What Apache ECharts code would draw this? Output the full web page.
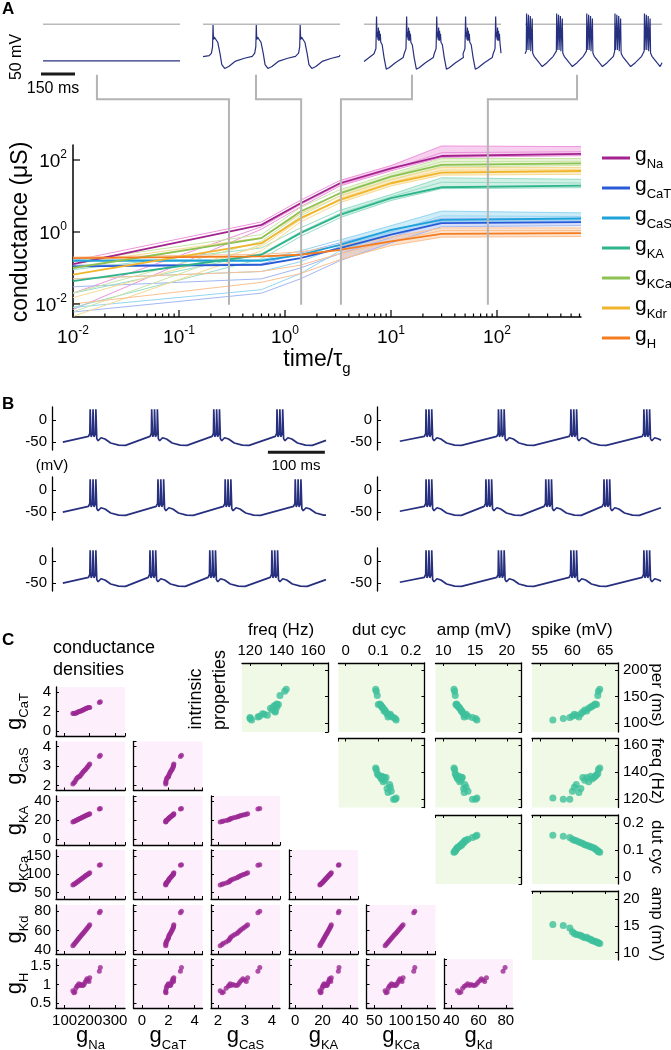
<!DOCTYPE html>
<html>
<head>
<meta charset="utf-8">
<script src="https://cdn.jsdelivr.net/npm/echarts@6.0.0/dist/echarts.min.js"></script>
<style>html,body{margin:0;padding:0;background:#fff;}#chart{width:671px;height:1050px;}</style>
</head>
<body>
<div id="chart"></div>
<script>
const FONT = "'Liberation Sans', Arial, sans-serif";
const NAVY = '#27307f';

// ================= PANEL A : top voltage traces (ms, mV) =================
const traceA1 = [[0, -57], [437, -57]];
const spikeTimesA2 = [32, 170, 310];
const waveA2 = [[-12,-49],[-5,-45],[-1.5,-35],[0,-1],[1.5,-24],[4,-20],[9,-22],[15,-28],[22,-45],[28,-63],[37,-69],[50,-66],[70,-58],[100,-53],[125,-50]];
const startEndA2 = [[0,-50.5],[437,-48]];
const burstTimesA3 = [40, 136, 232, 324, 420];
const waveA3 = [[-8,-46],[-2,-38],[0,12],[1.5,-20],[3,-12],[4.5,-24],[6,-5],[7.5,-26],[9,-10],[10.5,-25],[12,-15],[13.5,-28],[18,-32],[24,-52],[31,-70],[40,-68],[60,-60],[85,-52]];
const startEndA3 = [[0,-58],[437,-45]];
const burstTimesA4 = [5, 101, 197, 287, 381];
const waveA4 = [[-5,-48],[-1,-42],[0,17],[1.5,-40],[6,15],[7.5,-40],[12,13],[13.5,-42],[18,9],[19.5,-45],[24,-50],[30,-47],[40,-60],[50,-66],[65,-60],[85,-50]];
const startEndA4 = [[0,-46],[437,-60]];

// ================= PANEL A : conductance trajectories =================
const timePoints = [0.01, 0.6, 1.4, 3.3, 10, 30, 620];
const channelNames = ['Na','CaT','CaS','KA','KCa','Kdr','H'];
const gNaMean  = [0.129, 1.58, 6.3, 22.6, 58.8, 129, 147];
const gNaLow   = [0.007, 1.2, 5.0, 19, 50, 118, 132];
const gNaMid   = [0.02, 1.4, 5.8, 21, 55, 160, 170];
const gNaHigh  = [0.16, 1.9, 7.6, 27, 70, 245, 235];
const gCaTMean = [0.111, 0.123, 0.189, 0.357, 0.84, 1.76, 1.88];
const gCaTLow  = [0.006, 0.02, 0.05, 0.16, 0.5, 1.4, 1.5];
const gCaTMid  = [0.03, 0.05, 0.1, 0.25, 0.7, 2.0, 2.0];
const gCaTHigh = [0.12, 0.13, 0.26, 0.5, 1.1, 2.4, 2.4];
const gCaSMean = [0.159, 0.159, 0.233, 0.44, 1.15, 2.18, 2.37];
const gCaSLow  = [0.008, 0.025, 0.07, 0.3, 0.85, 1.9, 2.0];
const gCaSMid  = [0.05, 0.08, 0.15, 0.4, 1.0, 2.8, 2.7];
const gCaSHigh = [0.17, 0.17, 0.3, 0.6, 1.5, 3.8, 3.4];
const gKAMean  = [0.043, 0.233, 0.93, 2.99, 8.7, 17.5, 19.5];
const gKALow   = [0.008, 0.18, 0.75, 2.5, 7.5, 16, 17];
const gKAMid   = [0.02, 0.25, 1.0, 3.3, 9.5, 24, 23];
const gKAHigh  = [0.09, 0.36, 1.3, 4.0, 11, 32, 29];
const gKCaMean = [0.1, 0.676, 3.7, 11.9, 34.5, 73, 81];
const gKCaLow  = [0.006, 0.45, 2.8, 10, 28, 64, 70];
const gKCaMid  = [0.02, 0.55, 3.2, 12.5, 36, 90, 92];
const gKCaHigh = [0.15, 0.85, 4.8, 15, 42, 110, 110];
const gKdrMean = [0.065, 0.49, 2.42, 7.8, 22.6, 44.6, 49.5];
const gKdrLow  = [0.0045, 0.3, 1.9, 6.5, 19, 38, 40];
const gKdrMid  = [0.015, 0.4, 2.2, 8.5, 24, 52, 54];
const gKdrHigh = [0.13, 0.7, 3.2, 10, 29, 62, 62];
const gHMean   = [0.189, 0.21, 0.233, 0.32, 0.55, 0.89, 0.93];
const gHLow    = [0.01, 0.04, 0.07, 0.17, 0.42, 0.72, 0.75];
const gHMid    = [0.05, 0.08, 0.12, 0.25, 0.55, 1.1, 1.1];
const gHHigh   = [0.2, 0.24, 0.28, 0.42, 0.72, 1.3, 1.3];
const markerTimes = [0.296, 1.42, 3.37, 82];      // time/tau_g of the four example traces
const markerTraceTimes = [172, 169, 153, 166];    // ms, where the brackets meet the traces

// ================= PANEL B : six bursting traces =================
const waveB = [[-3,-37],[-0.6,-30],[0,25],[1.6,-38],[4.4,-30],[5,25],[6.6,-38],[9.4,-30],[10,25],[11.6,-42],[14,-47],[19,-40],[26,-43],[36,-52],[50,-57],[62,-57.5]];
const burstsB1L = [67, 175, 284, 395], startEndB1L = [[19,-50],[481,-46]];
const burstsB2L = [67, 186, 304, 427], startEndB2L = [[19,-50],[481,-57]];
const burstsB3L = [67, 172, 277, 386], startEndB3L = [[19,-50],[481,-42]];
const burstsB1R = [86, 213, 340, 468], startEndB1R = [[40,-48],[498,-46]];
const burstsB2R = [86, 191, 296, 398], startEndB2R = [[40,-48],[498,-40]];
const burstsB3R = [86, 213, 340, 468], startEndB3R = [[40,-48],[498,-46]];

// ================= PANEL C : 20 model neurons =================
const gNaC  = [133,137,141,145,149,153,157,161,165,169,173,177,181,185,189,193,197,200,238,242];
const gCaTC = [1.80,1.82,1.80,1.85,1.88,1.95,2.00,2.02,2.05,2.10,2.15,2.20,2.25,2.30,2.35,2.38,2.40,2.42,2.92,3.00];
const gCaSC = [2.08,2.15,2.20,2.30,2.38,2.42,2.45,2.48,2.55,2.62,2.70,2.75,2.80,2.85,2.92,2.98,3.05,3.10,3.48,3.55];
const gKAC  = [18.0,18.5,19.0,19.6,20.1,20.6,21.1,21.6,22.1,22.6,23.1,23.6,24.1,24.6,25.1,25.6,26.0,26.4,31.5,32.0];
const gKCaC = [70,72,74,76,78,80,82,84,86,88,90,92,94,96,98,100,102,104,124,126];
const gKdC  = [44.5,45.8,47.0,48.3,49.6,50.8,52.0,53.3,54.5,55.8,57.0,58.3,59.5,60.8,62.0,63.3,64.5,65.8,78.0,79.5];
const gHC   = [0.83,0.78,0.80,0.90,0.95,0.98,1.02,0.97,1.00,0.98,0.97,1.00,1.05,1.10,1.15,1.12,1.08,1.18,1.35,1.45];
const spikeC = [57.0,58.6,59.6,60.0,60.3,60.6,61.0,61.3,61.6,61.9,62.2,62.5,62.8,63.0,63.3,63.5,63.7,63.9,64.0,64.2];
const perC   = [106,109,111,113,117,115,112,118,121,125,123,128,130,132,134,136,135,152,160,164];
const freqC  = [121,120,120,126,129,131,125,128,136,134,136,133,137,135,136,137,138,139,142,143];
const dutC   = [0.155,0.152,0.147,0.140,0.137,0.135,0.130,0.127,0.124,0.120,0.118,0.115,0.112,0.110,0.108,0.105,0.100,0.097,0.094,0.092];
const ampC   = [15.3,15.1,14.6,13.9,13.6,13.4,13.3,13.2,13.0,12.8,12.9,12.6,12.5,12.3,12.2,12.1,12.0,11.9,11.8,11.7];

// ================= building =================
const chart = echarts.init(document.getElementById('chart'));
const grids = [], xAxes = [], yAxes = [], series = [], graphics = [];
const CCW = Math.PI / 2, CW = -Math.PI / 2;

function addGrid(box, xa, ya) {
  grids.push(Object.assign({show: false, containLabel: false}, box));
  const gi = grids.length - 1;
  xa.gridIndex = gi; ya.gridIndex = gi;
  xAxes.push(xa); yAxes.push(ya);
  return gi;
}
function addLine(idx, data, color, width, extra) {
  series.push(Object.assign({type: 'line', xAxisIndex: idx, yAxisIndex: idx, data: data, symbol: 'none',
    showSymbol: false, silent: true, animation: false, color: color,
    lineStyle: {color: color, width: width}}, extra || {}));
}
function buildTrace(startEnd, onsets, wave) {
  const start = startEnd[0], end = startEnd[1];
  const pts = [start];
  onsets.forEach(function (t0) {
    wave.forEach(function (p) { const t = t0 + p[0]; if (t > start[0] && t < end[0]) pts.push([t, p[1]]); });
  });
  pts.push(end);
  return pts;
}
function txt(x, y, text, o) {
  o = o || {};
  graphics.push({type: 'text', x: x, y: y, rotation: o.rot || 0, z: 100, silent: true,
    style: {text: text, fontSize: o.size || 16, fontFamily: FONT, fontWeight: o.bold ? 'bold' : 'normal',
      fill: '#000', align: o.align || 'center', verticalAlign: o.valign || 'middle', rich: o.rich}});
}
function subRich(gs, ss, pad) {
  return {
    g: {fontSize: gs, fontFamily: FONT, fill: '#000', color: '#000', verticalAlign: 'bottom', padding: [0, 0, pad, 0]},
    s: {fontSize: ss, fontFamily: FONT, fill: '#000', color: '#000', verticalAlign: 'bottom'}
  };
}

// ---- Panel A top traces ----
const topLeft = [43, 203, 364, 525];
const topIdx = [];
const topTraces = [traceA1, buildTrace(startEndA2, spikeTimesA2, waveA2),
  buildTrace(startEndA3, burstTimesA3, waveA3), buildTrace(startEndA4, burstTimesA4, waveA4)];
topTraces.forEach(function (tr, k) {
  const gi = addGrid({left: topLeft[k], top: 10.2, width: 137, height: 62.1},
    {type: 'value', min: 0, max: 437, show: false},
    {type: 'value', min: -75, max: 22, show: false});
  topIdx.push(gi);
  addLine(gi, [[0, 0], [437, 0]], '#b9b9b9', 1.4);
  addLine(gi, tr, NAVY, 1.2, {clip: false});
});
// scale bar 150 ms / 50 mV
const sbA = {t: -48, v: -77.7};
addLine(topIdx[0], [[sbA.t, sbA.v + 50], [sbA.t, sbA.v], [sbA.t + 150, sbA.v]], '#1a1a1a', 3, {clip: false});

// ---- Panel A main plot ----
const Y_MIN = 0.00435, Y_MAX = 261, X_MIN = 0.01, X_MAX = 620;
function supFmt(v, evenOnly) {
  const e = Math.log10(v), r = Math.round(e);
  if (Math.abs(e - r) > 1e-6) return '';
  if (evenOnly && r % 2 !== 0) return '';
  return '{b|10}{s|' + r + '}';
}
const supRich = {
  b: {fontSize: 19, fontFamily: FONT, color: '#000', verticalAlign: 'bottom'},
  s: {fontSize: 12, fontFamily: FONT, color: '#000', verticalAlign: 'bottom', padding: [0, 0, 10, 0]}
};
const mi = addGrid({left: 73, top: 145, width: 508, height: 172},
  {type: 'log', logBase: 10, min: X_MIN, max: X_MAX,
    axisLine: {show: true, onZero: false, lineStyle: {color: '#000', width: 1.5}},
    axisTick: {show: false}, splitLine: {show: false}, minorTick: {show: false},
    axisLabel: {margin: 8, formatter: function (v) { return supFmt(v, false); }, rich: supRich}},
  {type: 'log', logBase: 10, min: Y_MIN, max: Y_MAX,
    axisLine: {show: true, onZero: false, lineStyle: {color: '#000', width: 1.5}},
    axisTick: {show: false}, splitLine: {show: false}, minorTick: {show: false},
    axisLabel: {margin: 6, formatter: function (v) { return supFmt(v, true); }, rich: supRich}});

const meanSets = [gNaMean, gCaTMean, gCaSMean, gKAMean, gKCaMean, gKdrMean, gHMean];
const lowSets  = [gNaLow, gCaTLow, gCaSLow, gKALow, gKCaLow, gKdrLow, gHLow];
const midSets  = [gNaMid, gCaTMid, gCaSMid, gKAMid, gKCaMid, gKdrMid, gHMid];
const highSets = [gNaHigh, gCaTHigh, gCaSHigh, gKAHigh, gKCaHigh, gKdrHigh, gHHigh];
const chColors = ['#a2238e', '#2a5bd6', '#1ea2d9', '#2eb48b', '#8dc152', '#f1b52c', '#f47c20'];
const chLight  = ['#ee94db', '#a3b7f3', '#93d6f1', '#98ddc7', '#cbe5a8', '#f9da90', '#fac192'];
const BAND_FROM = 3; // shade the spread from t = 3.3 onward, where the runs bunch together

channelNames.forEach(function (n, c) {
  const lo = lowSets[c], hi = highSets[c], col = chLight[c];
  series.push({type: 'custom', xAxisIndex: mi, yAxisIndex: mi, silent: true, animation: false, z: 1,
    data: [[1, 1]],
    renderItem: function (params, api) {
      const idx = timePoints.map(function (t, i) { return i; }).filter(function (i) { return i >= BAND_FROM; });
      const up = idx.map(function (i) { return api.coord([timePoints[i], hi[i]]); });
      const dn = idx.map(function (i) { return api.coord([timePoints[i], lo[i]]); }).reverse();
      return {type: 'polygon', shape: {points: up.concat(dn)}, style: {fill: col, opacity: 0.45}};
    }});
  [lo, midSets[c], hi].forEach(function (arr) {
    addLine(mi, timePoints.map(function (t, i) { return [t, arr[i]]; }), col, 1, {z: 2});
  });
});
channelNames.forEach(function (n, c) {
  addLine(mi, timePoints.map(function (t, i) { return [t, meanSets[c][i]]; }), chColors[c], 1.8, {name: n, z: 3});
});
// log-axis tick marks (major at decades, minor at 2..9)
const xTickVals = [];
for (let d = -2; d <= 2; d++) for (let m = 1; m <= 9; m++) { const v = m * Math.pow(10, d); if (v <= X_MAX) xTickVals.push(v); }
series.push({type: 'custom', xAxisIndex: mi, yAxisIndex: mi, silent: true, animation: false, clip: false, z: 5,
  data: xTickVals.map(function (v) { return [v, Y_MIN]; }),
  renderItem: function (p, api) {
    const v = api.value(0), pt = api.coord([v, Y_MIN]);
    const e = Math.log10(v), major = Math.abs(e - Math.round(e)) < 1e-9;
    const L = major ? 7 : 3.5;
    return {type: 'line', shape: {x1: pt[0], y1: pt[1], x2: pt[0], y2: pt[1] - L}, style: {stroke: '#000', lineWidth: 1.2}};
  }});
series.push({type: 'custom', xAxisIndex: mi, yAxisIndex: mi, silent: true, animation: false, clip: false, z: 5,
  data: [[X_MIN, 0.01], [X_MIN, 1], [X_MIN, 100]],
  renderItem: function (p, api) {
    const pt = api.coord([X_MIN, api.value(1)]);
    return {type: 'line', shape: {x1: pt[0], y1: pt[1], x2: pt[0] + 7, y2: pt[1]}, style: {stroke: '#000', lineWidth: 1.2}};
  }});

// ---- Panel B ----
const bLeft = [52, 377], bWidth = [274, 284], bMax = [481, 498], bTop = [407, 477, 548];
const bTraces = [
  [buildTrace(startEndB1L, burstsB1L, waveB), buildTrace(startEndB1R, burstsB1R, waveB)],
  [buildTrace(startEndB2L, burstsB2L, waveB), buildTrace(startEndB2R, burstsB2R, waveB)],
  [buildTrace(startEndB3L, burstsB3L, waveB), buildTrace(startEndB3R, burstsB3R, waveB)]];
const bIdx = [];
bTraces.forEach(function (row, r) {
  row.forEach(function (tr, c) {
    const gi = addGrid({left: bLeft[c], top: bTop[r], width: bWidth[c], height: 43},
      {type: 'value', min: 0, max: bMax[c], show: false},
      {type: 'value', min: -68, max: 30, splitNumber: 2,
        axisLine: {show: true, onZero: false, lineStyle: {color: '#000', width: 1.3}},
        axisTick: {show: true, inside: true, length: 4, lineStyle: {color: '#000'}},
        splitLine: {show: false},
        axisLabel: {fontSize: 15, fontFamily: FONT, color: '#000', margin: 5, showMinLabel: false, showMaxLabel: false}});
    bIdx.push(gi);
    addLine(gi, tr, NAVY, 1.7);
  });
});
// 100 ms scale bar
const sbB = {t: 379, v: -73};
addLine(bIdx[0], [[sbB.t, sbB.v], [sbB.t + 100, sbB.v]], '#1a1a1a', 3, {clip: false});

// ---- Panel C ----
const condData = {Na: gNaC, CaT: gCaTC, CaS: gCaSC, KA: gKAC, KCa: gKCaC, Kd: gKdC, H: gHC};
const propData = {per: perC, freq: freqC, dut: dutC, amp: ampC, spike: spikeC};
const condRowVars = ['CaT', 'CaS', 'KA', 'KCa', 'Kd', 'H'];
const condColVars = ['Na', 'CaT', 'CaS', 'KA', 'KCa', 'Kd'];
const condXRange = {Na: [66, 340], CaT: [-0.65, 4.6], CaS: [1.74, 4.3], KA: [-4.4, 45.8], KCa: [35, 165], Kd: [34.6, 85.3]};
const condYRange = {CaT: [-0.5, 4.5], CaS: [1.75, 4.25], KA: [-6, 45], KCa: [32, 166], Kd: [36, 86], H: [0.37, 1.68]};
const propRowVars = ['per', 'freq', 'dut', 'amp'];
const propColVars = ['freq', 'dut', 'amp', 'spike'];
const propXRange = {freq: [114.9, 169.5], dut: [-0.022, 0.242], amp: [8.8, 22.3], spike: [53.8, 67]};
const propYRange = {per: [83.7, 213], freq: [114, 164.8], dut: [-0.027, 0.231], amp: [8.63, 21.55]};

function cAxis(range, pos, showLabel) {
  return {type: 'value', min: range[0], max: range[1], splitNumber: 3, position: pos,
    axisLine: {show: true, onZero: false, lineStyle: {color: '#000', width: 1.3}},
    axisTick: {show: true, inside: true, length: 3, lineStyle: {color: '#000', width: 1}},
    splitLine: {show: false},
    axisLabel: {show: showLabel, fontSize: 15, fontFamily: FONT, color: '#000', margin: 5,
      showMinLabel: false, showMaxLabel: false}};
}
const pinkLeft = [56, 133.5, 211, 289, 366.5, 444], pinkTop = [687, 741.5, 796, 850, 905, 959];
condRowVars.forEach(function (rv, r) {
  condColVars.forEach(function (cv, c) {
    if (c > r) return;
    const gi = addGrid({left: pinkLeft[c], top: pinkTop[r], width: 69, height: 49, show: true,
        backgroundColor: '#fdeffb', borderWidth: 0},
      cAxis(condXRange[cv], 'bottom', r === 5), cAxis(condYRange[rv], 'left', c === 0));
    series.push({type: 'scatter', xAxisIndex: gi, yAxisIndex: gi, silent: true, animation: false,
      symbolSize: 5, itemStyle: {color: '#9b2894'},
      data: condData[cv].map(function (x, i) { return [x, condData[rv][i]]; })});
  });
});
const greenLeft = [242, 338.5, 435.5, 532], greenTop = [663, 738.5, 815, 891];
propRowVars.forEach(function (rv, r) {
  propColVars.forEach(function (cv, c) {
    if (c < r) return;
    const gi = addGrid({left: greenLeft[c], top: greenTop[r], width: 86, height: 69, show: true,
        backgroundColor: '#f0f9e6', borderWidth: 0},
      cAxis(propXRange[cv], 'top', r === 0), cAxis(propYRange[rv], 'right', c === 3));
    series.push({type: 'scatter', xAxisIndex: gi, yAxisIndex: gi, silent: true, animation: false,
      symbolSize: 7, itemStyle: {color: '#3dbf9b'},
      data: propData[cv].map(function (x, i) { return [x, propData[rv][i]]; })});
  });
});

// ---- texts ----
txt(2, 9, 'A', {size: 17, bold: true, align: 'left'});
txt(17, 57, '50 mV', {size: 16, rot: CCW});
txt(53, 89, '150 ms', {size: 16});
txt(21, 232, 'conductance (μS)', {size: 23, rot: CCW});
txt(317, 362, '{g|time/τ}{s|g}', {rich: subRich(23, 15, 5)});
txt(2, 404, 'B', {size: 17, bold: true, align: 'left'});
txt(52, 466, '(mV)', {size: 15});
txt(296, 466, '100 ms', {size: 15});
txt(2, 640, 'C', {size: 17, bold: true, align: 'left'});
txt(53, 648, 'conductance', {size: 18, align: 'left'});
txt(53, 670, 'densities', {size: 18, align: 'left'});
txt(196.5, 699, 'intrinsic', {size: 18, rot: CCW});
txt(220, 690, 'properties', {size: 18, rot: CCW});
const topTitles = ['freq (Hz)', 'dut cyc', 'amp (mV)', 'spike (mV)'];
const topTitleX = [281, 379, 474, 572];
topTitles.forEach(function (t, i) { txt(topTitleX[i], 630, t, {size: 17}); });
const rightTitles = ['per (ms)', 'freq (Hz)', 'dut cyc', 'amp (mV)'];
const rightTitleY = [695, 771, 847, 924];
rightTitles.forEach(function (t, i) { txt(657, rightTitleY[i], t, {size: 17, rot: CW}); });
const rowLabelNames = ['CaT', 'CaS', 'KA', 'KCa', 'Kd', 'H'];
rowLabelNames.forEach(function (n, r) {
  txt(17, pinkTop[r] + 24.5, '{g|g}{s|' + n + '}', {rot: CCW, rich: subRich(22, 13, 5)});
});
const colLabelNames = ['Na', 'CaT', 'CaS', 'KA', 'KCa', 'Kd'];
colLabelNames.forEach(function (n, c) {
  txt(pinkLeft[c] + 34.5, 1038, '{g|g}{s|' + n + '}', {rich: subRich(22, 13, 5)});
});

const option = {
  animation: false,
  backgroundColor: '#ffffff',
  textStyle: {fontFamily: FONT},
  grid: grids, xAxis: xAxes, yAxis: yAxes, series: series,
  legend: {data: channelNames, left: 597, top: 140, orient: 'vertical', icon: 'rect',
    itemWidth: 28, itemHeight: 3, itemGap: 4, selectedMode: false,
    formatter: function (n) { return '{g|g}{s|' + n + '}'; },
    textStyle: {rich: subRich(21, 13, 5)}}
};
chart.setOption(option);

// connector brackets between the example traces and the time axis
const brackets = markerTimes.map(function (tm, k) {
  const top = chart.convertToPixel({xAxisIndex: topIdx[k], yAxisIndex: topIdx[k]}, [markerTraceTimes[k], -79]);
  const elbow = chart.convertToPixel({xAxisIndex: topIdx[k], yAxisIndex: topIdx[k]}, [markerTraceTimes[k], -117]);
  const bot = chart.convertToPixel({xAxisIndex: mi, yAxisIndex: mi}, [tm, 0.0095]);
  return {type: 'polyline', z: 50, silent: true,
    shape: {points: [top, elbow, [bot[0], elbow[1]], bot]},
    style: {stroke: '#b4b4b4', lineWidth: 2, fill: null}};
});
chart.setOption({graphic: {elements: graphics.concat(brackets)}});
</script>
</body>
</html>
